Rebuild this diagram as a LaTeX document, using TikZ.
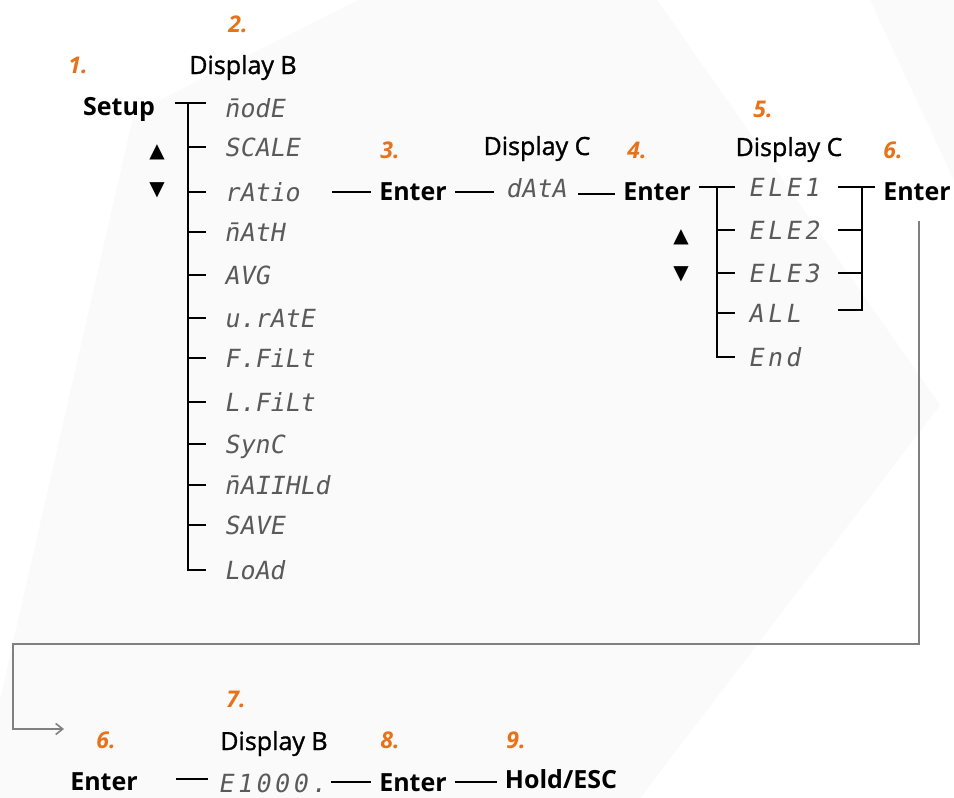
\documentclass[tikz,border=0pt]{standalone}
\usepackage{fontspec}
\usetikzlibrary{arrows.meta}
\setmainfont{Open Sans}
\newfontfamily\semifont[FakeBold=1.3]{Open Sans}
\newfontfamily\segfont[FakeSlant=0.18]{DejaVu Sans Mono}
\newfontfamily\segwide[FakeSlant=0.18,LetterSpace=14]{DejaVu Sans Mono}
\newfontfamily\symfont{DejaVu Sans}
\definecolor{numorange}{RGB}{232,114,26}
\definecolor{seggray}{RGB}{90,90,90}
\definecolor{flowgray}{RGB}{128,128,128}
\definecolor{bgshade}{RGB}{250,250,250}
\begin{document}
\begin{tikzpicture}[x=1pt,y=-1pt,
  seg/.style={font=\segfont\fontsize{25}{25}\selectfont, text=seggray, anchor=west,
              inner xsep=18pt, inner ysep=0pt, text height=18.2pt, text depth=0pt},
  segw/.style={seg, font=\segwide\fontsize{25}{25}\selectfont, inner xsep=13pt},
  lbl/.style={font=\semifont\fontsize{25}{30}\selectfont, inner sep=0pt, anchor=base},
  keylbl/.style={font=\bfseries\fontsize{25}{30}\selectfont, inner xsep=8pt, inner ysep=0pt, anchor=base},
  num/.style={font=\bfseries\itshape\fontsize{23}{27}\selectfont, text=numorange, inner sep=0pt, anchor=base},
  arrsym/.style={font=\symfont\fontsize{20}{20}\selectfont, inner sep=0pt},
  wire/.style={line width=2.8pt},
  flow/.style={draw=flowgray, line width=2pt}
]
\useasboundingbox (0,0) rectangle (954,798);
\fill[white] (0,0) rectangle (954,798);
% faint background shapes
\fill[bgshade] (0,700) -- (134,113) -- (359,0) -- (657,0) -- (940,405) -- (640,798) -- (0,798) -- cycle;
\fill[bgshade] (870,0) -- (954,0) -- (954,180) -- cycle;

% ---------- step 1/2 : Display B menu ----------
\node[num] (n1) at (78,73) {1.};
\node[num] (n2) at (238,32) {2.};
\node[lbl] (dispB) at (243,74) {Display B};
\node[keylbl] (setup) at (119,115) {Setup};
\node[arrsym] (up1) at (157,152) {▲};
\node[arrsym] (dn1) at (157,190) {▼};

\node[seg, text height=28pt] (b1) at (206,103) {\=nodE};
\node[seg] (b2)  at (206,147) {SCALE};
\node[seg] (b3)  at (206,192) {rAtio};
\node[seg] (b4)  at (206,232) {\=nAtH};
\node[seg] (b5)  at (206,275) {AVG};
\node[seg] (b6)  at (206,318) {u.rAtE};
\node[seg] (b7)  at (206,358) {F.FiLt};
\node[seg] (b8)  at (206,402) {L.FiLt};
\node[seg] (b9)  at (206,444) {SynC};
\node[seg] (b10) at (206,485) {\=nAIIHLd};
\node[seg] (b11) at (206,525) {SAVE};
\node[seg] (b12) at (206,570) {LoAd};

\coordinate (sA) at (175,103);
\coordinate (sV) at (188,103);
\draw[wire] (sA) -- (b1.west);
\draw[wire] (sV) -- (sV |- b12.west) -- (b12.west);
\foreach \i in {2,...,11} {\draw[wire] (sV |- b\i.west) -- (b\i.west);}

% ---------- step 3/4 ----------
\node[num] (n3) at (390,158) {3.};
\node[lbl] (dispC1) at (537,155) {Display C};
\node[num] (n4) at (637,158) {4.};
\node[keylbl] (e1) at (413,200) {Enter};
\node[seg, anchor=center, inner xsep=12pt] (data) at (536,188) {dAtA};
\node[keylbl] (e2) at (657,200) {Enter};
\coordinate (r1) at (332,192);
\draw[wire] (r1) -- (r1 -| e1.west);
\draw[wire] (e1.east |- r1) -- (r1 -| data.west);
\draw[wire] ([yshift=-6pt]data.east) -- ([yshift=-6pt]data.east -| e2.west);

% ---------- step 5 : Display C menu ----------
\node[num] (n5) at (763,117) {5.};
\node[lbl] (dispC2) at (789,156) {Display C};
\node[num] (n6) at (893,158) {6.};
\node[arrsym] (up2) at (681,237) {▲};
\node[arrsym] (dn2) at (681,274) {▼};

\node[segw] (c1) at (735,187) {ELE1};
\node[segw] (c2) at (735,230) {ELE2};
\node[segw] (c3) at (735,273) {ELE3};
\node[segw] (c4) at (735,313) {ALL};
\node[segw] (c5) at (735,357) {End};

\coordinate (tV) at (717,187);
\draw[wire] (e2.east |- tV) -- (c1.west);
\draw[wire] (tV) -- (tV |- c5.west) -- (c5.west);
\foreach \i in {2,3,4} {\draw[wire] (tV |- c\i.west) -- (c\i.west);}

% ---------- step 6 ----------
\node[keylbl] (e3) at (917,200) {Enter};
\coordinate (rV) at (862,187);
\coordinate (rL) at (838,187);
\draw[wire] (rL) -- (rL -| e3.west);
\draw[wire] (rV) -- (rV |- 0,310) -- (rL |- 0,310);
\draw[wire] (rL |- 0,230) -- (rV |- 0,230);
\draw[wire] (rL |- 0,273) -- (rV |- 0,273);

% ---------- flow back to bottom row ----------
\coordinate (fTop) at (919,221);
\coordinate (fR) at (919,644);
\coordinate (fL) at (13,644);
\coordinate (fD) at (13,729);
\coordinate (fTip) at (64,729);
\draw[flow, -{Straight Barb[length=7pt,width=11pt,line width=1.6pt]}] (fTop) -- (fR) -- (fL) -- (fD) -- (fTip);

% ---------- bottom row ----------
\node[num] (m6) at (106,748) {6.};
\node[keylbl] (g1) at (104,790) {Enter};
\node[num] (m7) at (236,707) {7.};
\node[lbl] (dispB2) at (274,750) {Display B};
\node[num] (m8) at (390,748) {8.};
\node[num] (m9) at (516,748) {9.};
\node[segw, anchor=center, inner xsep=10pt] (e1000) at (272,783) {E1000.};
\node[keylbl] (g2) at (413,791) {Enter};
\node[keylbl] (hold) at (561,788) {Hold/ESC};

\coordinate (q1) at (176,779);
\draw[wire] (q1) -- (q1 -| e1000.west);
\coordinate (q2) at (331,782);
\draw[wire] (q2) -- (q2 -| g2.west);
\draw[wire] (g2.east |- q2) -- (q2 -| hold.west);
\end{tikzpicture}
\end{document}
